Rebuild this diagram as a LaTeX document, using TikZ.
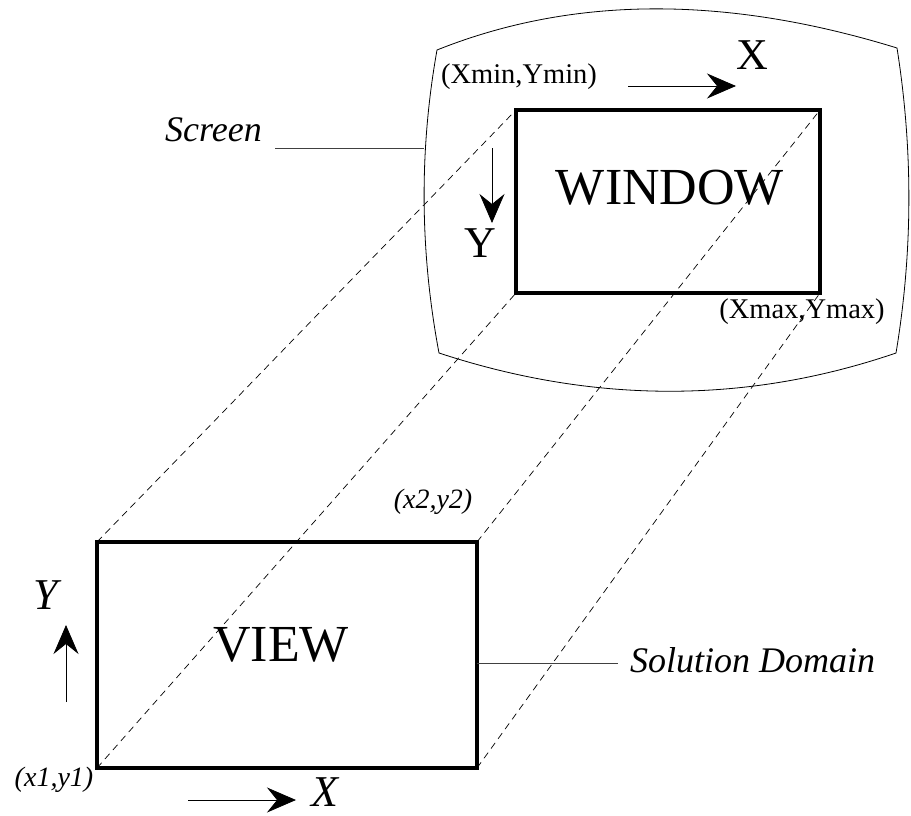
\documentclass[tikz,border=0pt]{standalone}
\usepackage{fontspec}
\setmainfont{Liberation Serif}
\usetikzlibrary{arrows.meta}

\begin{document}
\begin{tikzpicture}[
  x=1pt, y=-1pt,
  frame/.style={rectangle, draw, line width=3.6pt, outer sep=0pt, inner sep=0pt},
  boxtext/.style={font=\fontsize{52}{56}\selectfont, inner sep=0pt},
  axislabel/.style={font=\fontsize{44}{48}\selectfont, inner sep=0pt},
  cornerlabel/.style={font=\fontsize{28.5}{32}\selectfont, inner sep=0pt},
  caption/.style={font=\itshape\fontsize{36}{40}\selectfont, inner sep=0pt},
  projection/.style={dash pattern=on 7pt off 5pt, line width=0.7pt},
  leader/.style={line width=0.8pt, black!75},
  axisarrow/.style={-{Stealth[length=29pt, width=25pt, inset=10pt]}, line width=0.8pt}
]
\useasboundingbox (0,0) rectangle (911,816);

% screen outline
\draw[line width=0.8pt] (437,50) .. controls (572,-4) and (725,-5) .. (897,48)
  .. controls (913,149) and (913,251) .. (896,353)
  .. controls (747,404) and (594,404) .. (439,353)
  .. controls (420,252) and (419,151) .. cycle;

% the two rectangles
\node[frame, minimum width=304pt, minimum height=183pt] (win) at (668,201.5) {};
\node[frame, minimum width=380pt, minimum height=226pt] (view) at (287,655) {};

\node[boxtext] (wintext) at (670,188) {WINDOW};
\node[boxtext] (viewtext) at (281,645) {VIEW};

% projection lines
\draw[projection] (view.north west) -- (win.north west);
\draw[projection] (view.south west) -- (win.south west);
\draw[projection] (view.north east) -- (win.north east);
\draw[projection] (view.south east) -- (win.south east);

% screen axes
\node[cornerlabel] (wmin) at (519,77) {(Xmin,Ymin)};
\node[cornerlabel] (wmax) at (802,312) {(Xmax,Ymax)};
\node[axislabel] (wx) at (752,55) {X};
\node[axislabel] (wy) at (480,243) {Y};
\coordinate (wxa) at (628,86);
\coordinate (wxb) at (736,86);
\coordinate (wya) at (492,148);
\coordinate (wyb) at (492,223);
\draw[axisarrow] (wxa) -- (wxb);
\draw[axisarrow] (wya) -- (wyb);

% solution domain axes
\node[cornerlabel, font=\itshape\fontsize{28}{32}\selectfont] (v1) at (54,780) {(x1,y1)};
\node[cornerlabel, font=\itshape\fontsize{28}{32}\selectfont] (v2) at (433,502) {(x2,y2)};
\node[axislabel, font=\itshape\fontsize{44}{48}\selectfont] (vy) at (46,595) {Y};
\node[axislabel, font=\itshape\fontsize{44}{48}\selectfont] (vx) at (325,792) {X};
\coordinate (vya) at (66,702);
\coordinate (vyb) at (66,625);
\coordinate (vxa) at (188,800);
\coordinate (vxb) at (296,800);
\draw[axisarrow] (vya) -- (vyb);
\draw[axisarrow] (vxa) -- (vxb);

% captions
\node[caption, anchor=base west] (scr) at (165,142) {Screen};
\node[caption, anchor=base west] (sol) at (630,672) {Solution Domain};
\coordinate (scrpt) at (424,148);
\coordinate (solpt) at (618,663);
\draw[leader] (scr.base east |- scrpt) ++(13,0) -- (scrpt);
\draw[leader] (view.east |- solpt) -- (solpt);

\end{tikzpicture}
\end{document}
